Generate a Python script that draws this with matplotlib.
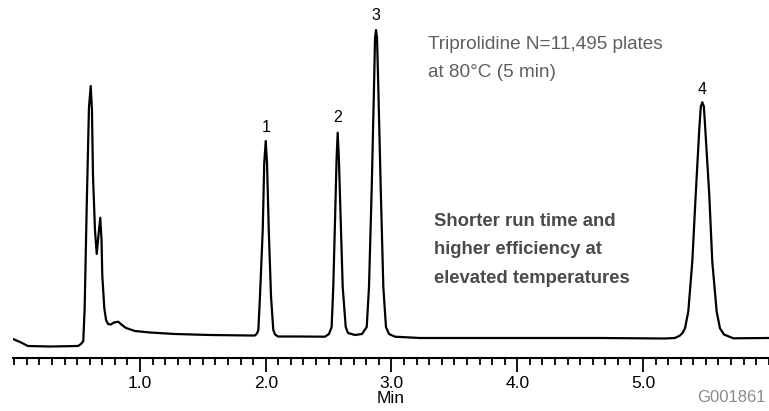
import numpy as np
import matplotlib
matplotlib.use('Agg')
import matplotlib.pyplot as plt

plt.rcParams['font.family'] = ['Liberation Sans', 'DejaVu Sans']

# trace (time in min, detector signal in arbitrary units)
time_min = [
    -0.010, 0.046, 0.109, 0.284, 0.507, 0.531, 0.549, 0.560, 0.576, 0.594,
    0.608, 0.618, 0.626, 0.642, 0.656, 0.670, 0.684, 0.694, 0.700, 0.716,
    0.730, 0.746, 0.769, 0.793, 0.827, 0.857, 0.889, 0.960, 1.080, 1.278,
    1.557, 1.875,
    1.914, 1.930, 1.941, 1.954, 1.976, 1.988, 2.000, 2.010, 2.024, 2.042,
    2.060, 2.074, 2.097, 2.272,
    2.471, 2.503, 2.524, 2.537, 2.551, 2.563, 2.572, 2.582, 2.596, 2.612,
    2.636, 2.654, 2.710, 2.765,
    2.803, 2.821, 2.843, 2.861, 2.869, 2.877, 2.885, 2.895, 2.914, 2.935,
    2.956, 2.980, 3.028,
    3.227, 3.863, 4.658, 5.175,
    5.254, 5.294, 5.314, 5.334, 5.360, 5.392, 5.419, 5.448, 5.460, 5.472,
    5.484, 5.495, 5.527, 5.551, 5.586, 5.612, 5.644, 5.718, 6.002,
]
signal = [
    19, 16, 12, 11.5, 12, 14, 17, 50, 150, 250,
    272, 248, 183, 128, 104, 123, 140.3, 118, 83, 50,
    38, 34, 33.5, 35.5, 36.3, 33, 30, 27, 25.5, 24,
    23, 22.5,
    22.5, 24.5, 28, 61.3, 128, 195, 217, 195, 128, 61.3,
    28, 23.5, 21.5, 21.5,
    21.3, 24, 31, 71, 138, 198, 225.3, 198, 138, 71,
    31, 25, 23, 24,
    31, 71, 171.3, 271.3, 320, 328, 320, 271.3, 171.3, 71,
    31, 24, 21.3,
    20, 20, 20, 19.5,
    20, 22.5, 25, 29.7, 46.3, 96.3, 163, 229.7, 251.5, 255.7,
    251.5, 229.7, 163, 96.3, 46.3, 29.7, 23.5, 19.7, 20,
]

peak_labels = ['1', '2', '3', '4']
peak_label_t = [2.0, 2.572, 2.877, 5.472]
peak_label_y = [231, 240, 342, 269]

major_ticks = [1.0, 2.0, 3.0, 4.0, 5.0]
major_labels = ['1.0', '2.0', '3.0', '4.0', '5.0']

fig = plt.figure(figsize=(7.69, 4.11), dpi=100)
ax = fig.add_axes([13 / 769, 53 / 411, 756 / 769, 358 / 411])

ax.plot(time_min, signal, color='black', lw=1.6, solid_joinstyle='round')

for lab, t, y in zip(peak_labels, peak_label_t, peak_label_y):
    ax.text(t, y, lab, ha='center', va='center', fontsize=11.5, color='black')

ax.text(3.29, 299.5, 'Triprolidine N=11,495 plates\nat 80°C (5 min)',
        ha='left', va='center', fontsize=13.7, color='#5f5f5f', linespacing=1.8)
ax.text(3.34, 108, 'Shorter run time and\nhigher efficiency at\nelevated temperatures',
        ha='left', va='center', fontsize=13.3, color='#4a4a4a',
        fontweight='bold', linespacing=1.86)

ax.set_xlim(-0.0099, 6.002)
ax.set_ylim(0, 358)

ax.set_xticks(major_ticks)
ax.set_xticklabels(major_labels, fontsize=12.5)
ax.set_xticks(np.arange(0, 60.5) / 10, minor=True)
ax.tick_params(axis='x', which='major', direction='out', length=10, width=1.3, pad=3)
ax.tick_params(axis='x', which='minor', direction='out', length=5, width=1.3)
ax.set_yticks([])

for side in ['left', 'right', 'top']:
    ax.spines[side].set_visible(False)
ax.spines['bottom'].set_linewidth(1.5)

ax.set_xlabel('Min', fontsize=12.5, labelpad=0)
fig.text(766 / 769, 1 - 397 / 411, 'G001861', ha='right', va='center',
         fontsize=12, color='#8a8a8a')

fig.savefig('out.png', dpi=100)
